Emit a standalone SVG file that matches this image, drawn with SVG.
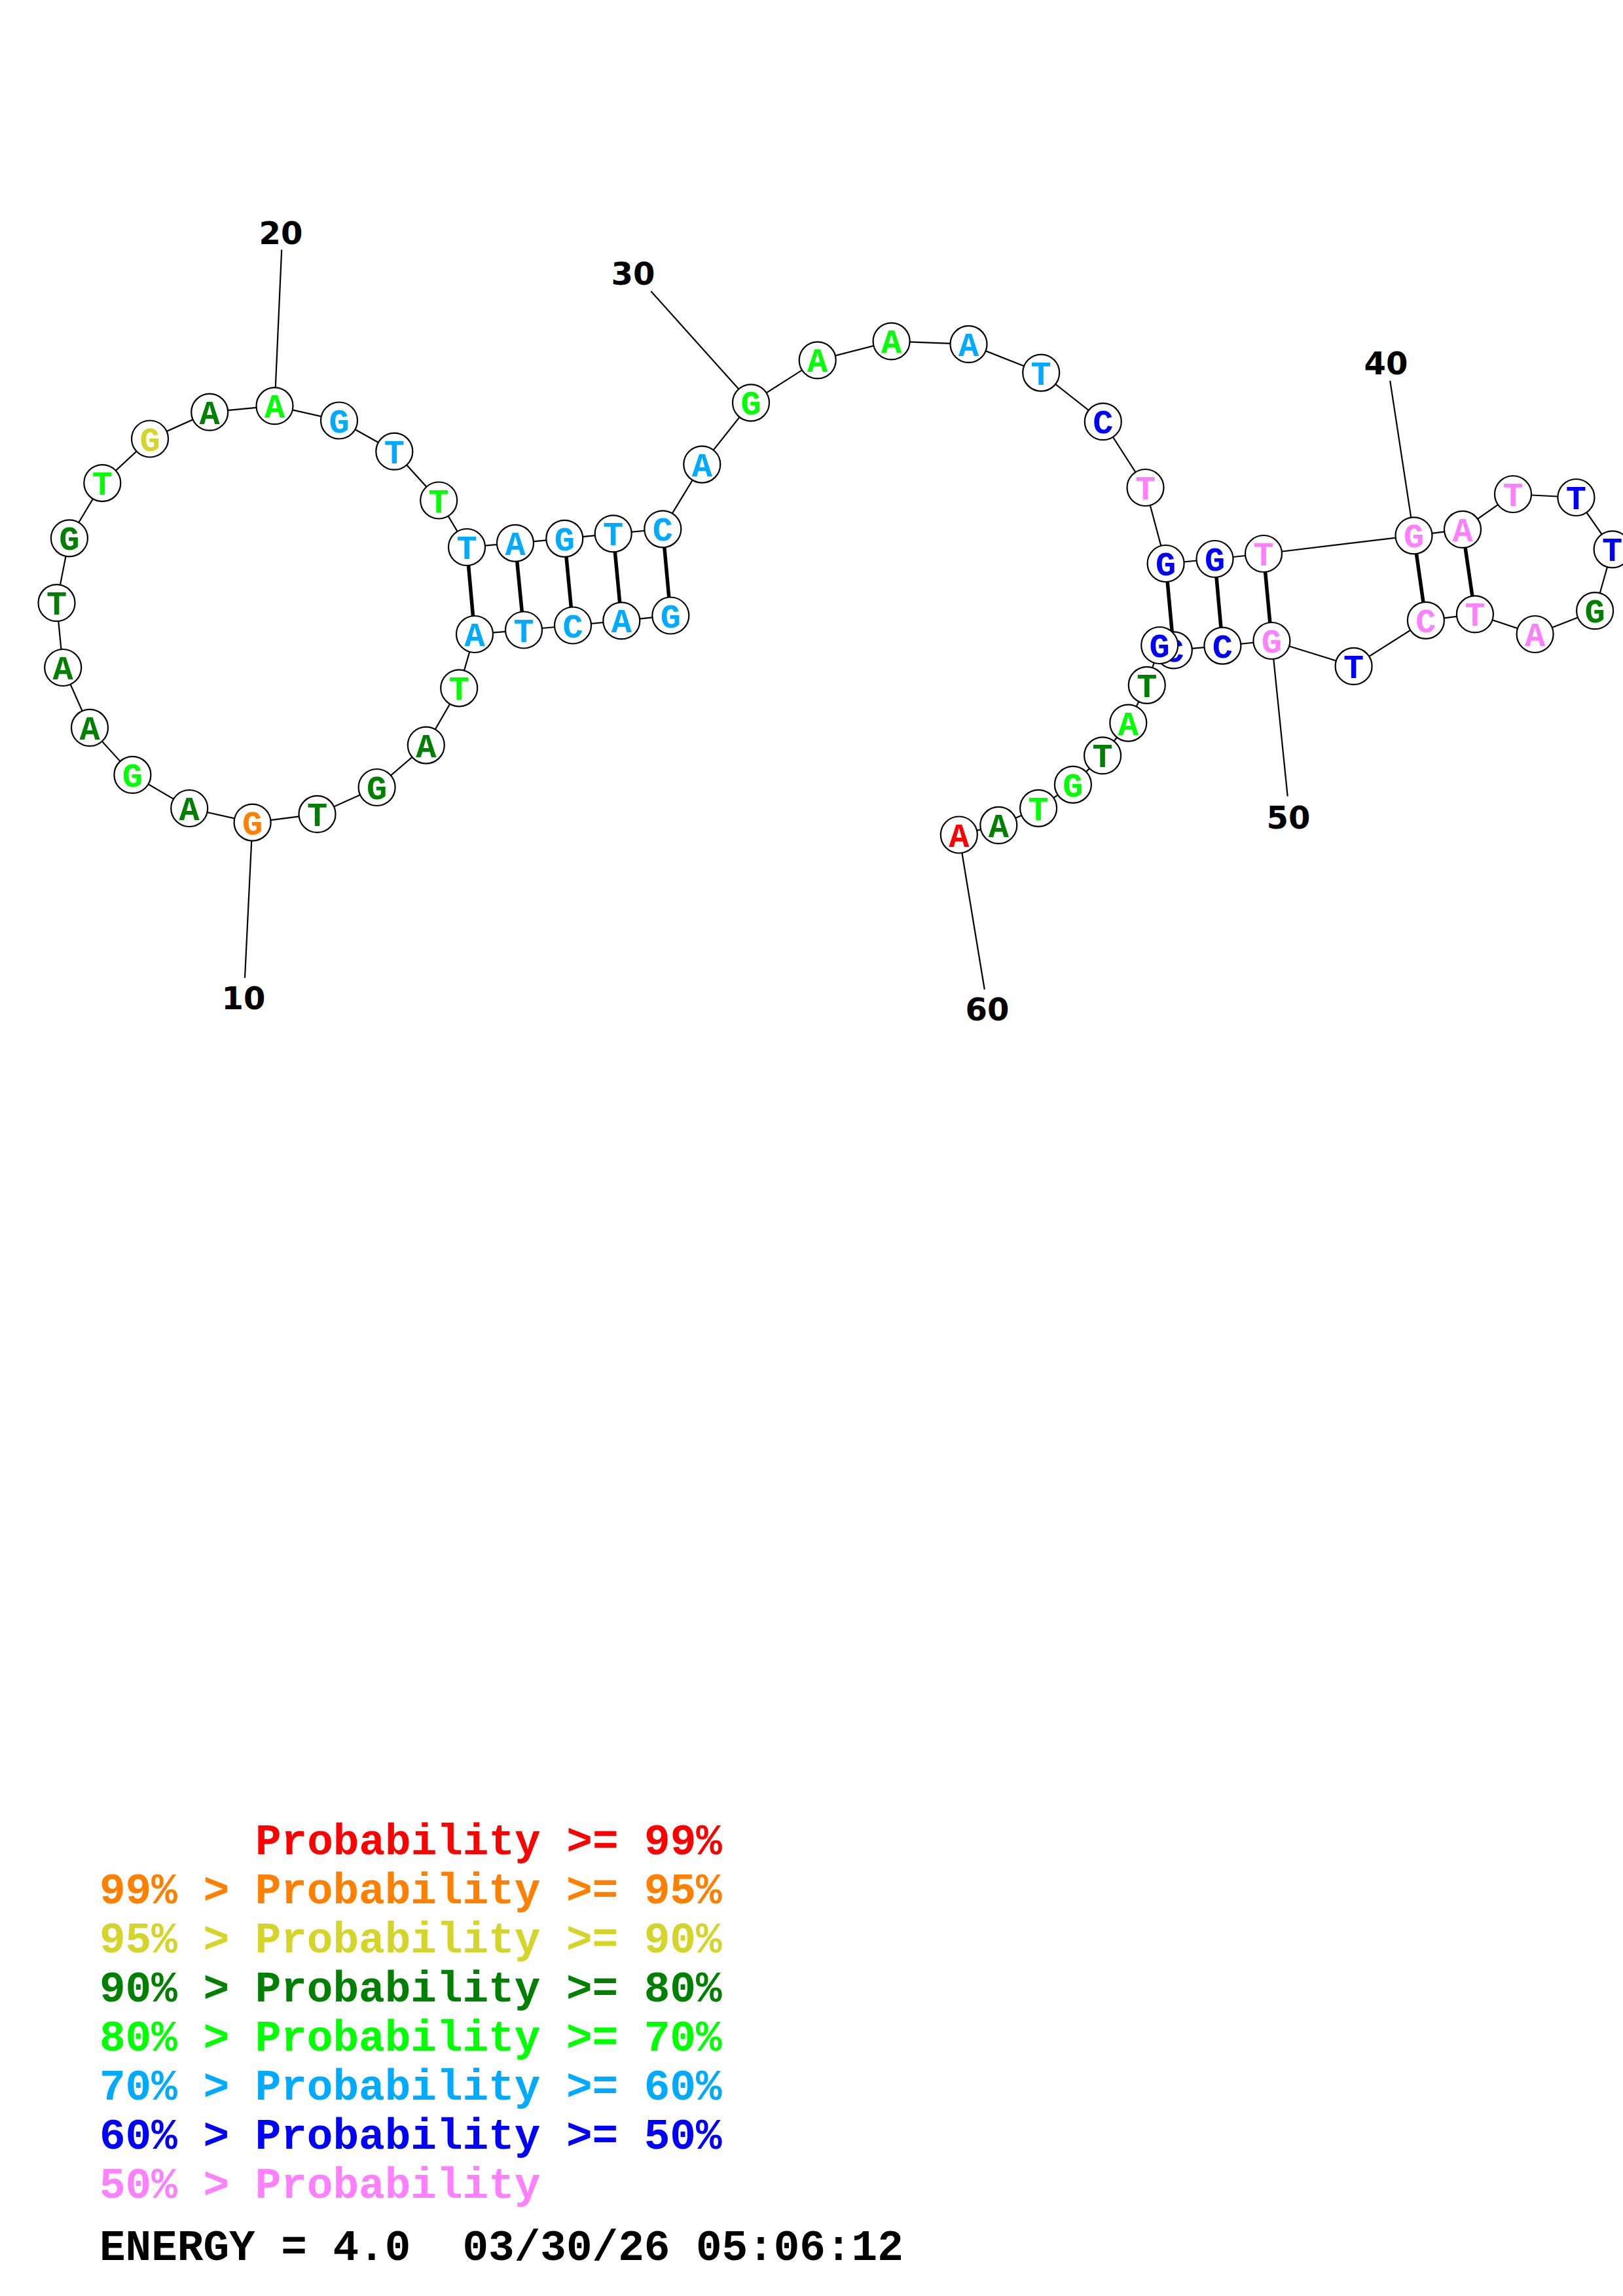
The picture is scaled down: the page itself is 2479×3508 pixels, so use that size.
<svg xmlns="http://www.w3.org/2000/svg" width="2479" height="3508" viewBox="0 0 2479 3508">
<style>
.bb{stroke:#000;stroke-width:2.2;fill:none}
.bp{stroke:#000;stroke-width:5.5;fill:none}
.tk{stroke:#000;stroke-width:2.2;fill:none}
.nd circle{fill:#fff;stroke:#000;stroke-width:2.2}
.nd text{font-family:"Liberation Mono","Courier New",monospace;font-weight:bold;font-size:52px;text-anchor:middle}
.num{font-family:"DejaVu Sans",sans-serif;font-weight:bold;font-size:48px;text-anchor:middle;fill:#000}
.lg{font-family:"Liberation Mono","Courier New",monospace;font-weight:bold;font-size:66px}
.r{fill:#FF0000}.o{fill:#FF8000}.y{fill:#D4D42A}.dg{fill:#008000}.g{fill:#00FF00}.lb{fill:#00AAFF}.b{fill:#0000FF}.p{fill:#FF80FF}.k{fill:#000}
</style>
<rect width="2479" height="3508" fill="#fff"/>
<g id="connectors">
<polyline class="bb" points="1024.3,940.5 949.3,948.4 875,955.5 800,962.5 725,969 701.2,1051.3 650.8,1138.6 575.6,1203 484.5,1243.9 385.6,1256.6 289.2,1235 202.4,1183.9 137,1111.9 96.2,1020 86.5,921.2 105.9,822.3 156.3,738.1 229,670.5 320.2,629.7 419.5,620.2 518,642.5 602.3,689.7 670.2,764.5 713,836 787,829.8 862.3,822.8 936.7,815.3 1012.3,808.3 1072.3,709.6 1147,615.3 1248.7,550.4 1361.6,521.4 1479.5,525.9 1590.2,569.6 1684.8,644.2 1749.5,745 1780.6,861 1855.5,854 1930,846 2159.5,818.3 2234,808.9 2311,755 2407.4,760 2462.6,839.3 2436.1,933.2 2344.6,969 2252.9,938.4 2177.9,947.8 2067.6,1017.9 1942.4,979 1867.4,986.6 1792.8,993.4 1771.2,986 1751.8,1046.8 1723.3,1104.6 1684.1,1154.4 1638.9,1198.8 1586.1,1234.8 1525.3,1260.9 1464.8,1275.5"/>
<line class="bp" x1="1024.3" y1="940.5" x2="1012.3" y2="808.3"/>
<line class="bp" x1="949.3" y1="948.4" x2="936.7" y2="815.3"/>
<line class="bp" x1="875" y1="955.5" x2="862.3" y2="822.8"/>
<line class="bp" x1="800" y1="962.5" x2="787" y2="829.8"/>
<line class="bp" x1="725" y1="969" x2="713" y2="836"/>
<line class="bp" x1="1780.6" y1="861" x2="1792.8" y2="993.4"/>
<line class="bp" x1="1855.5" y1="854" x2="1867.4" y2="986.6"/>
<line class="bp" x1="1930" y1="846" x2="1942.4" y2="979"/>
<line class="bp" x1="2159.5" y1="818.3" x2="2177.9" y2="947.8"/>
<line class="bp" x1="2234" y1="808.9" x2="2252.9" y2="938.4"/>
<line class="tk" x1="385.6" y1="1256.6" x2="374" y2="1494"/>
<line class="tk" x1="419.5" y1="620.2" x2="430.2" y2="381.6"/>
<line class="tk" x1="1147" y1="615.3" x2="994.3" y2="445"/>
<line class="tk" x1="2159.5" y1="818.3" x2="2123.2" y2="581.7"/>
<line class="tk" x1="1942.4" y1="979" x2="1966.7" y2="1216.7"/>
<line class="tk" x1="1464.8" y1="1275.5" x2="1503.8" y2="1511.8"/>
</g>
<g id="nodes">
<g id="n1" class="nd"><circle cx="1024.3" cy="940.5" r="28"/><text x="1024.3" y="958.5" class="lb">G</text></g>
<g id="n2" class="nd"><circle cx="949.3" cy="948.4" r="28"/><text x="949.3" y="966.4" class="lb">A</text></g>
<g id="n3" class="nd"><circle cx="875" cy="955.5" r="28"/><text x="875" y="973.5" class="lb">C</text></g>
<g id="n4" class="nd"><circle cx="800" cy="962.5" r="28"/><text x="800" y="980.5" class="lb">T</text></g>
<g id="n5" class="nd"><circle cx="725" cy="969" r="28"/><text x="725" y="987" class="lb">A</text></g>
<g id="n6" class="nd"><circle cx="701.2" cy="1051.3" r="28"/><text x="701.2" y="1069.3" class="g">T</text></g>
<g id="n7" class="nd"><circle cx="650.8" cy="1138.6" r="28"/><text x="650.8" y="1156.6" class="dg">A</text></g>
<g id="n8" class="nd"><circle cx="575.6" cy="1203" r="28"/><text x="575.6" y="1221" class="dg">G</text></g>
<g id="n9" class="nd"><circle cx="484.5" cy="1243.9" r="28"/><text x="484.5" y="1261.9" class="dg">T</text></g>
<g id="n10" class="nd"><circle cx="385.6" cy="1256.6" r="28"/><text x="385.6" y="1274.6" class="o">G</text></g>
<g id="n11" class="nd"><circle cx="289.2" cy="1235" r="28"/><text x="289.2" y="1253" class="dg">A</text></g>
<g id="n12" class="nd"><circle cx="202.4" cy="1183.9" r="28"/><text x="202.4" y="1201.9" class="g">G</text></g>
<g id="n13" class="nd"><circle cx="137" cy="1111.9" r="28"/><text x="137" y="1129.9" class="dg">A</text></g>
<g id="n14" class="nd"><circle cx="96.2" cy="1020" r="28"/><text x="96.2" y="1038" class="dg">A</text></g>
<g id="n15" class="nd"><circle cx="86.5" cy="921.2" r="28"/><text x="86.5" y="939.2" class="dg">T</text></g>
<g id="n16" class="nd"><circle cx="105.9" cy="822.3" r="28"/><text x="105.9" y="840.3" class="dg">G</text></g>
<g id="n17" class="nd"><circle cx="156.3" cy="738.1" r="28"/><text x="156.3" y="756.1" class="g">T</text></g>
<g id="n18" class="nd"><circle cx="229" cy="670.5" r="28"/><text x="229" y="688.5" class="y">G</text></g>
<g id="n19" class="nd"><circle cx="320.2" cy="629.7" r="28"/><text x="320.2" y="647.7" class="dg">A</text></g>
<g id="n20" class="nd"><circle cx="419.5" cy="620.2" r="28"/><text x="419.5" y="638.2" class="g">A</text></g>
<g id="n21" class="nd"><circle cx="518" cy="642.5" r="28"/><text x="518" y="660.5" class="lb">G</text></g>
<g id="n22" class="nd"><circle cx="602.3" cy="689.7" r="28"/><text x="602.3" y="707.7" class="lb">T</text></g>
<g id="n23" class="nd"><circle cx="670.2" cy="764.5" r="28"/><text x="670.2" y="782.5" class="g">T</text></g>
<g id="n24" class="nd"><circle cx="713" cy="836" r="28"/><text x="713" y="854" class="lb">T</text></g>
<g id="n25" class="nd"><circle cx="787" cy="829.8" r="28"/><text x="787" y="847.8" class="lb">A</text></g>
<g id="n26" class="nd"><circle cx="862.3" cy="822.8" r="28"/><text x="862.3" y="840.8" class="lb">G</text></g>
<g id="n27" class="nd"><circle cx="936.7" cy="815.3" r="28"/><text x="936.7" y="833.3" class="lb">T</text></g>
<g id="n28" class="nd"><circle cx="1012.3" cy="808.3" r="28"/><text x="1012.3" y="826.3" class="lb">C</text></g>
<g id="n29" class="nd"><circle cx="1072.3" cy="709.6" r="28"/><text x="1072.3" y="727.6" class="lb">A</text></g>
<g id="n30" class="nd"><circle cx="1147" cy="615.3" r="28"/><text x="1147" y="633.3" class="g">G</text></g>
<g id="n31" class="nd"><circle cx="1248.7" cy="550.4" r="28"/><text x="1248.7" y="568.4" class="g">A</text></g>
<g id="n32" class="nd"><circle cx="1361.6" cy="521.4" r="28"/><text x="1361.6" y="539.4" class="g">A</text></g>
<g id="n33" class="nd"><circle cx="1479.5" cy="525.9" r="28"/><text x="1479.5" y="543.9" class="lb">A</text></g>
<g id="n34" class="nd"><circle cx="1590.2" cy="569.6" r="28"/><text x="1590.2" y="587.6" class="lb">T</text></g>
<g id="n35" class="nd"><circle cx="1684.8" cy="644.2" r="28"/><text x="1684.8" y="662.2" class="b">C</text></g>
<g id="n36" class="nd"><circle cx="1749.5" cy="745" r="28"/><text x="1749.5" y="763" class="p">T</text></g>
<g id="n37" class="nd"><circle cx="1780.6" cy="861" r="28"/><text x="1780.6" y="879" class="b">G</text></g>
<g id="n38" class="nd"><circle cx="1855.5" cy="854" r="28"/><text x="1855.5" y="872" class="b">G</text></g>
<g id="n39" class="nd"><circle cx="1930" cy="846" r="28"/><text x="1930" y="864" class="p">T</text></g>
<g id="n40" class="nd"><circle cx="2159.5" cy="818.3" r="28"/><text x="2159.5" y="836.3" class="p">G</text></g>
<g id="n41" class="nd"><circle cx="2234" cy="808.9" r="28"/><text x="2234" y="826.9" class="p">A</text></g>
<g id="n42" class="nd"><circle cx="2311" cy="755" r="28"/><text x="2311" y="773" class="p">T</text></g>
<g id="n43" class="nd"><circle cx="2407.4" cy="760" r="28"/><text x="2407.4" y="778" class="b">T</text></g>
<g id="n44" class="nd"><circle cx="2462.6" cy="839.3" r="28"/><text x="2462.6" y="857.3" class="b">T</text></g>
<g id="n45" class="nd"><circle cx="2436.1" cy="933.2" r="28"/><text x="2436.1" y="951.2" class="dg">G</text></g>
<g id="n46" class="nd"><circle cx="2344.6" cy="969" r="28"/><text x="2344.6" y="987" class="p">A</text></g>
<g id="n47" class="nd"><circle cx="2252.9" cy="938.4" r="28"/><text x="2252.9" y="956.4" class="p">T</text></g>
<g id="n48" class="nd"><circle cx="2177.9" cy="947.8" r="28"/><text x="2177.9" y="965.8" class="p">C</text></g>
<g id="n49" class="nd"><circle cx="2067.6" cy="1017.9" r="28"/><text x="2067.6" y="1035.9" class="b">T</text></g>
<g id="n50" class="nd"><circle cx="1942.4" cy="979" r="28"/><text x="1942.4" y="997" class="p">G</text></g>
<g id="n51" class="nd"><circle cx="1867.4" cy="986.6" r="28"/><text x="1867.4" y="1004.6" class="b">C</text></g>
<g id="n52" class="nd"><circle cx="1792.8" cy="993.4" r="28"/><text x="1792.8" y="1011.4" class="b">C</text></g>
<g id="n53" class="nd"><circle cx="1771.2" cy="986" r="28"/><text x="1771.2" y="1004" class="b">G</text></g>
<g id="n54" class="nd"><circle cx="1751.8" cy="1046.8" r="28"/><text x="1751.8" y="1064.8" class="dg">T</text></g>
<g id="n55" class="nd"><circle cx="1723.3" cy="1104.6" r="28"/><text x="1723.3" y="1122.6" class="g">A</text></g>
<g id="n56" class="nd"><circle cx="1684.1" cy="1154.4" r="28"/><text x="1684.1" y="1172.4" class="dg">T</text></g>
<g id="n57" class="nd"><circle cx="1638.9" cy="1198.8" r="28"/><text x="1638.9" y="1216.8" class="g">G</text></g>
<g id="n58" class="nd"><circle cx="1586.1" cy="1234.8" r="28"/><text x="1586.1" y="1252.8" class="g">T</text></g>
<g id="n59" class="nd"><circle cx="1525.3" cy="1260.9" r="28"/><text x="1525.3" y="1278.9" class="dg">A</text></g>
<g id="n60" class="nd"><circle cx="1464.8" cy="1275.5" r="28"/><text x="1464.8" y="1293.5" class="r">A</text></g>
</g>
<g id="numbers">
<text class="num" x="372" y="1542">10</text>
<text class="num" x="429" y="373">20</text>
<text class="num" x="967" y="435">30</text>
<text class="num" x="2117" y="572">40</text>
<text class="num" x="1968" y="1266">50</text>
<text class="num" x="1508" y="1559">60</text>
</g>
<g id="legend" class="lg">
<text x="390" y="2833" class="r">Probability &gt;= 99%</text>
<text x="152" y="2908" class="o">99% &gt; Probability &gt;= 95%</text>
<text x="152" y="2983" class="y">95% &gt; Probability &gt;= 90%</text>
<text x="152" y="3058" class="dg">90% &gt; Probability &gt;= 80%</text>
<text x="152" y="3133" class="g">80% &gt; Probability &gt;= 70%</text>
<text x="152" y="3208" class="lb">70% &gt; Probability &gt;= 60%</text>
<text x="152" y="3283" class="b">60% &gt; Probability &gt;= 50%</text>
<text x="152" y="3358" class="p">50% &gt; Probability</text>
<text x="152" y="3453" class="k" xml:space="preserve">ENERGY = 4.0  03/30/26 05:06:12</text>
</g>
</svg>
